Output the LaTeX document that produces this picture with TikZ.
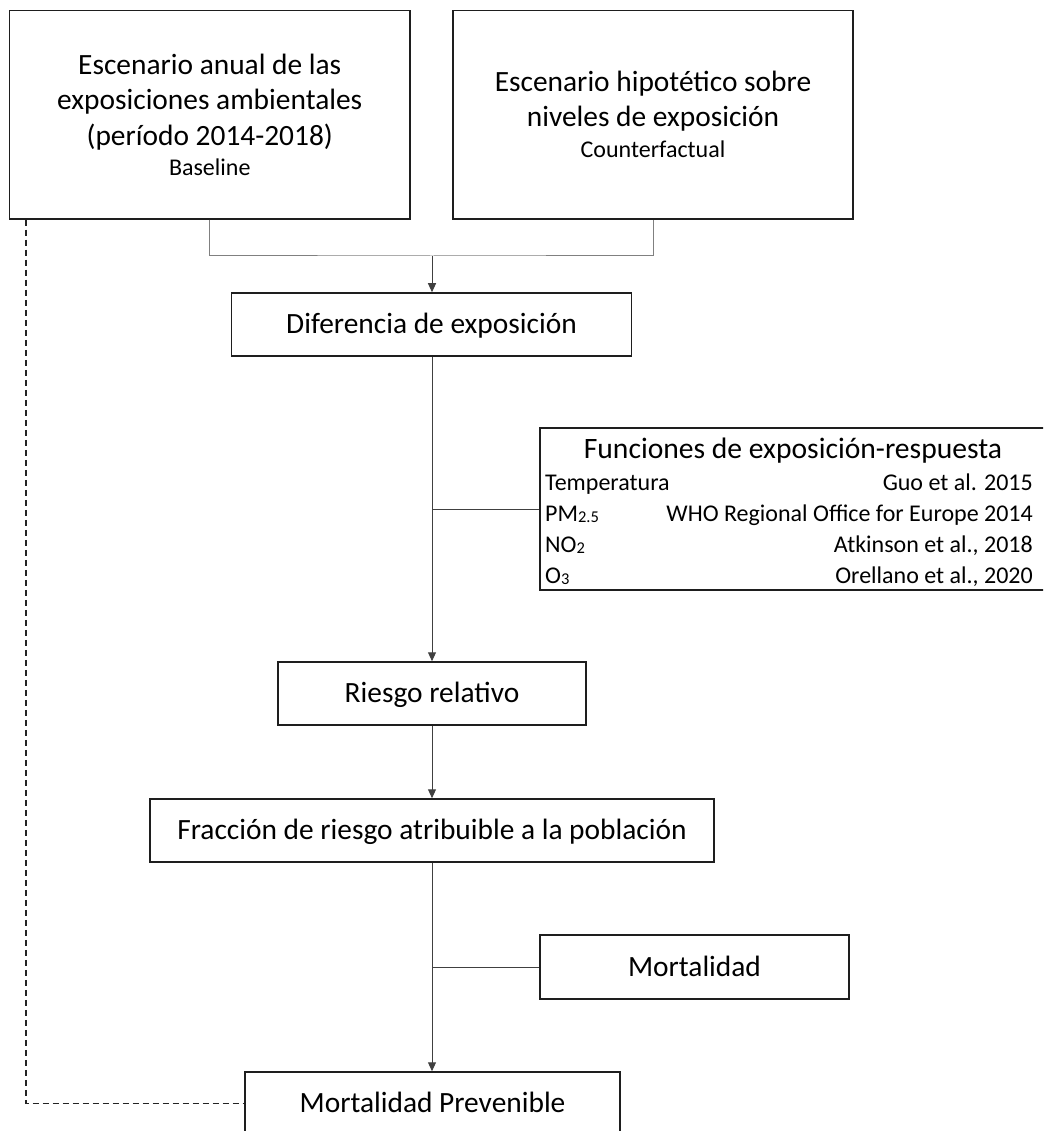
\documentclass[tikz,border=0pt]{standalone}
\usepackage{fontspec}
\setmainfont{Carlito}
\usetikzlibrary{arrows.meta}
\definecolor{boxline}{RGB}{30,30,30}
\definecolor{topconn}{RGB}{128,128,128}
\definecolor{mainconn}{RGB}{64,64,64}
\definecolor{dashc}{RGB}{35,35,35}
\newcommand{\lowsub}[1]{\raisebox{-1.5pt}{\fontsize{16.5}{16.5}\selectfont #1}}
\begin{document}
\begin{tikzpicture}[x=1pt,y=-1pt,
  box/.style={draw=boxline, line width=1.5pt, inner sep=0pt, align=center,
              font=\fontsize{29.4}{35.5}\selectfont},
  onebox/.style={box, text height=22pt, text depth=4pt},
  conn/.style={draw=mainconn, line width=1pt},
  topline/.style={draw=topconn, line width=1pt},
  arr/.style={conn, -{Triangle[width=8pt,length=9pt]}},
  dashline/.style={draw=dashc, line width=1.8pt, dash pattern=on 6.5pt off 3.5pt},
  rowtext/.style={font=\fontsize{24}{28}\selectfont, inner sep=0pt},
  titletext/.style={font=\fontsize{29.6}{34}\selectfont, inner sep=0pt}]
\clip (0,0) rectangle (1043,1131);
\useasboundingbox (0,0) rectangle (1043,1131);

% top boxes
\node[box, minimum width=400.5pt, minimum height=208.5pt] (A) at (209.75,114.75)
  {Escenario anual de las\\exposiciones ambientales\\(período 2014-2018)\\[-5.5pt]{\fontsize{24}{28}\selectfont Baseline}};
\node[box, minimum width=400pt, minimum height=208.5pt] (B) at (653,114.75)
  {Escenario hipotético sobre\\[-0.5pt]niveles de exposición\\[-4.5pt]{\fontsize{24}{28}\selectfont Counterfactual}};

% chain
\node[onebox, minimum width=400pt, minimum height=63pt] (dif) at (431.5,324.5) {Diferencia de exposición};
\node[onebox, minimum width=308pt, minimum height=63pt] (rr) at (432,693.5) {Riesgo relativo};
\node[onebox, minimum width=564pt, minimum height=63pt] (frac) at (432,830.5) {Fracción de riesgo atribuible a la población};
\node[onebox, minimum width=309pt, minimum height=64pt] (mort) at (694.5,967) {Mortalidad};
\node[onebox, minimum width=375pt, minimum height=63pt] (mp) at (432.5,1103.5) {Mortalidad Prevenible};

% exposure-response functions box
\node[draw=boxline, line width=1.5pt, inner sep=0pt, minimum width=506pt, minimum height=162pt] (fer) at (793,509) {};
\node[titletext, anchor=base] (fertitle) at (793,458) {Funciones de exposición-respuesta};
\node[rowtext, anchor=base west] (r1l) at (545,490) {Temperatura};
\node[rowtext, anchor=base east] (r1r) at (1033,490) {Guo et al. 2015};
\node[rowtext, anchor=base west] (r2l) at (545,521) {PM\lowsub{2.5}};
\node[rowtext, anchor=base east] (r2r) at (1033,521) {WHO Regional Office for Europe 2014};
\node[rowtext, anchor=base west] (r3l) at (545,552) {NO\lowsub{2}};
\node[rowtext, anchor=base east] (r3r) at (1033,552) {Atkinson et al., 2018};
\node[rowtext, anchor=base west] (r4l) at (545,583) {O\lowsub{3}};
\node[rowtext, anchor=base east] (r4r) at (1033,583) {Orellano et al., 2020};

% connectors
\coordinate (jt) at (432,256);
\draw[topline] (A.south) |- (jt) -| (B.south);
\draw[arr] (jt) -- (dif.north -| jt);
\draw[arr] (dif.south -| rr.north) -- (rr.north);
\draw[conn] (fer.west) -- (fer.west -| rr.north);
\draw[arr] (rr.south) -- (frac.north);
\draw[arr] (frac.south) -- (mp.north -| frac.south);
\draw[conn] (mort.west) -- (mort.west -| frac.south);
\coordinate (dstart) at ([xshift=17.5pt]A.south west);
\draw[dashline] (dstart) |- (mp.west);
\end{tikzpicture}
\end{document}
